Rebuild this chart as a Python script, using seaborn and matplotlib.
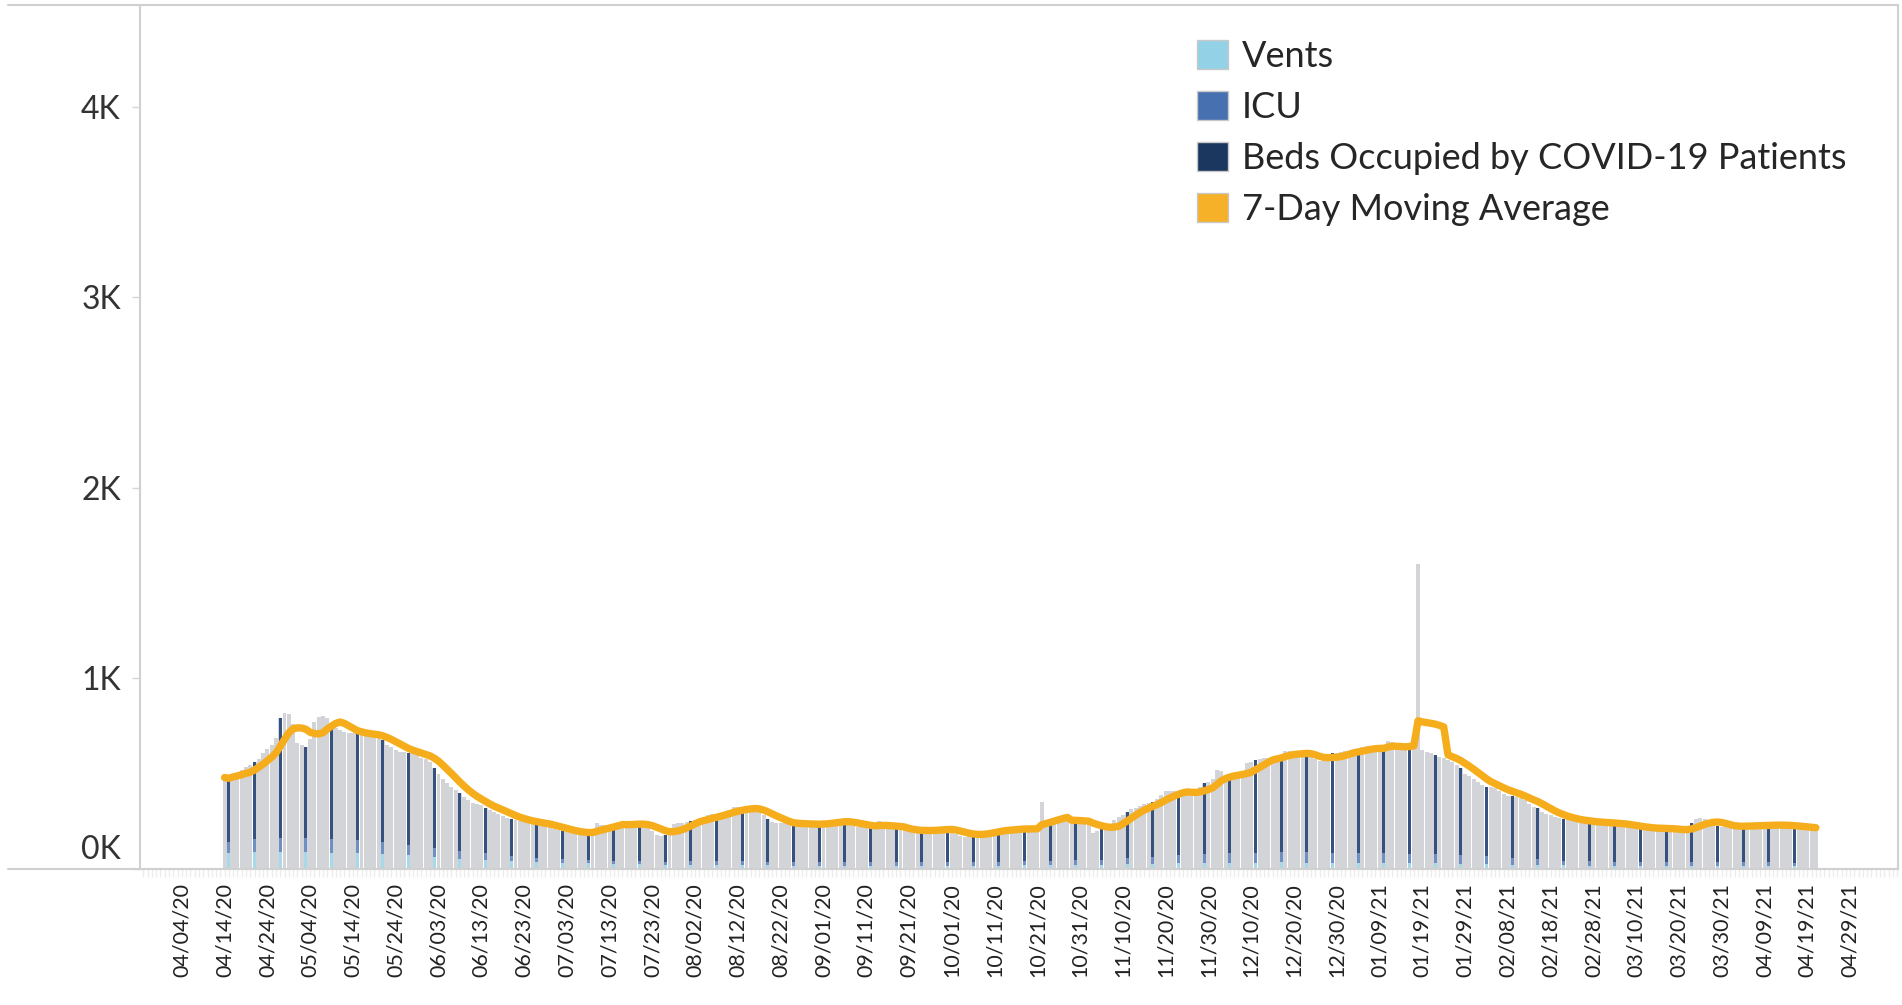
import numpy as np
import pandas as pd
import seaborn as sns
import matplotlib.pyplot as plt
from matplotlib.patches import Patch
from matplotlib.lines import Line2D
from matplotlib.transforms import ScaledTranslation

start_date = '2020-04-14'

# daily beds occupied
beds = [480, 472, 498, 505, 520, 538, 545,
        560, 575, 610, 630, 652, 690, 790,
        818, 812, 760, 662, 650, 642, 680,
        770, 800, 805, 795, 760, 742, 728,
        720, 712, 715, 710, 712, 705, 700,
        700, 690, 675, 652, 640, 622, 615,
        615, 610, 612, 600, 585, 575, 560,
        530, 500, 470, 450, 430, 415, 400,
        380, 360, 345, 340, 335, 320, 310,
        300, 290, 280, 270, 262, 255, 250,
        248, 245, 240, 238, 232, 228, 222,
        210, 205, 198, 194, 192, 190, 190,
        188, 190, 195, 240, 232, 230, 228,
        231, 234, 236, 238, 235, 240, 235,
        230, 215, 200, 180, 174, 176, 195,
        235, 241, 243, 245, 250, 255, 265,
        275, 284, 288, 282, 290, 300, 310,
        328, 325, 320, 315, 310, 312, 300,
        285, 260, 245, 240, 242, 240, 238,
        236, 240, 234, 232, 235, 230, 238,
        245, 248, 252, 250, 255, 248, 240,
        225, 222, 224, 220, 226, 228, 252,
        230, 220, 212, 210, 211, 208, 200,
        197, 198, 196, 205, 210, 212, 211,
        209, 206, 200, 185, 172, 170, 175,
        180, 190, 197, 198, 196, 200, 205,
        210, 212, 211, 208, 213, 210, 209,
        212, 215, 354, 255, 258, 260, 256,
        258, 255, 252, 250, 249, 248, 245,
        190, 200, 209, 212, 230, 255, 272,
        285, 300, 316, 320, 330, 342, 345,
        350, 365, 390, 410, 408, 412, 410,
        405, 395, 381, 400, 430, 450, 459,
        470, 520, 515, 480, 485, 490, 485,
        500, 555, 560, 570, 575, 582, 580,
        585, 590, 600, 620, 618, 610, 600,
        598, 602, 590, 575, 565, 570, 590,
        608, 610, 612, 617, 615, 618, 620,
        640, 643, 645, 640, 625, 620, 672,
        668, 640, 634, 630, 636, 640, 1600,
        625, 615, 608, 600, 590, 582, 573,
        560, 547, 530, 500, 486, 470, 455,
        440, 433, 428, 424, 410, 395, 385,
        381, 378, 375, 360, 340, 325, 320,
        300, 290, 284, 275, 268, 263, 260,
        255, 250, 249, 248, 246, 244, 241,
        242, 240, 240, 238, 232, 230, 226,
        220, 214, 215, 213, 214, 212, 214,
        215, 213, 210, 200, 197, 199, 215,
        240, 260, 267, 262, 240, 232, 226,
        223, 224, 222, 223, 226, 228, 229,
        228, 230, 227, 228, 232, 234, 232,
        230, 226, 220, 218, 219, 218, 216,
        214, 214]

icu = [140, 142, 145, 148, 150, 152, 155,
       156, 158, 160, 160, 162, 163, 165,
       166, 166, 165, 164, 163, 163, 162,
       162, 160, 160, 158, 157, 156, 155,
       154, 152, 150, 150, 148, 146, 145,
       143, 141, 140, 138, 136, 134, 132,
       130, 128, 126, 124, 121, 118, 115,
       112, 110, 107, 104, 101, 98, 95,
       92, 90, 88, 86, 84, 82, 80,
       78, 76, 74, 72, 70, 68, 66,
       64, 62, 60, 58, 57, 56, 55,
       54, 52, 51, 50, 49, 48, 48,
       47, 46, 46, 45, 45, 44, 44,
       43, 43, 42, 42, 41, 41, 40,
       40, 40, 39, 39, 38, 38, 38,
       38, 38, 39, 39, 40, 40, 40,
       41, 41, 42, 42, 42, 43, 43,
       43, 42, 42, 41, 41, 40, 40,
       39, 39, 38, 38, 38, 37, 37,
       37, 37, 36, 36, 36, 37, 37,
       37, 38, 38, 38, 37, 37, 36,
       36, 36, 35, 35, 35, 36, 36,
       36, 35, 35, 35, 34, 34, 34,
       34, 34, 35, 35, 35, 36, 36,
       36, 36, 35, 35, 34, 34, 35,
       35, 36, 36, 37, 37, 38, 38,
       38, 39, 39, 40, 40, 40, 41,
       41, 42, 42, 43, 44, 44, 45,
       45, 46, 46, 47, 47, 47, 48,
       48, 48, 49, 50, 51, 52, 54,
       55, 57, 58, 60, 61, 62, 64,
       65, 66, 68, 69, 70, 71, 72,
       73, 74, 74, 75, 76, 77, 78,
       79, 80, 81, 82, 82, 83, 84,
       84, 85, 85, 86, 86, 86, 87,
       87, 87, 87, 88, 88, 88, 87,
       87, 87, 86, 86, 86, 85, 85,
       85, 85, 84, 84, 84, 84, 83,
       83, 83, 83, 82, 82, 82, 82,
       81, 81, 81, 80, 80, 80, 82,
       80, 79, 79, 78, 78, 77, 76,
       75, 74, 73, 72, 71, 70, 68,
       67, 66, 64, 63, 62, 60, 59,
       58, 56, 55, 54, 52, 51, 50,
       49, 48, 47, 46, 45, 44, 43,
       43, 42, 42, 41, 41, 40, 40,
       40, 39, 39, 39, 38, 38, 38,
       37, 37, 37, 36, 36, 36, 36,
       35, 35, 35, 35, 35, 36, 36,
       37, 38, 38, 37, 37, 36, 36,
       36, 36, 35, 35, 35, 35, 36,
       36, 36, 36, 35, 35, 35, 35,
       35, 34, 34, 34, 34, 33, 33,
       33, 33]

vents = [82, 83, 84, 85, 85, 86, 87,
         87, 88, 88, 89, 89, 90, 90,
         90, 90, 90, 89, 89, 89, 88,
         88, 88, 87, 87, 86, 86, 85,
         85, 84, 84, 83, 82, 82, 81,
         80, 79, 78, 77, 76, 75, 74,
         73, 72, 71, 70, 68, 67, 66,
         64, 62, 61, 59, 58, 56, 55,
         54, 52, 51, 50, 49, 48, 47,
         46, 45, 44, 43, 42, 41, 40,
         39, 38, 37, 36, 36, 35, 35,
         34, 34, 33, 33, 32, 32, 31,
         31, 30, 30, 29, 29, 28, 28,
         27, 27, 26, 26, 25, 25, 24,
         24, 23, 23, 22, 22, 22, 21,
         21, 21, 21, 20, 20, 20, 20,
         20, 21, 21, 20, 20, 21, 21,
         21, 21, 20, 20, 20, 19, 19,
         19, 19, 19, 18, 18, 18, 18,
         18, 18, 18, 18, 17, 17, 18,
         18, 18, 18, 18, 18, 17, 17,
         17, 17, 16, 16, 17, 17, 17,
         17, 16, 16, 16, 17, 16, 16,
         16, 16, 16, 17, 17, 17, 17,
         17, 17, 16, 16, 16, 16, 17,
         17, 17, 17, 18, 18, 18, 18,
         18, 18, 19, 19, 19, 19, 20,
         20, 20, 20, 21, 21, 21, 21,
         22, 22, 22, 22, 23, 23, 23,
         23, 23, 23, 24, 24, 24, 25,
         25, 25, 26, 26, 26, 27, 27,
         27, 28, 28, 28, 29, 29, 29,
         29, 30, 30, 30, 30, 31, 31,
         31, 31, 32, 32, 32, 32, 33,
         33, 33, 33, 33, 34, 34, 34,
         34, 34, 35, 35, 35, 34, 34,
         34, 34, 34, 33, 33, 33, 33,
         33, 33, 33, 33, 33, 32, 32,
         32, 32, 32, 32, 32, 31, 31,
         31, 31, 31, 31, 31, 30, 31,
         30, 30, 30, 30, 29, 29, 29,
         29, 28, 28, 28, 27, 27, 26,
         26, 26, 25, 25, 24, 24, 23,
         23, 23, 22, 22, 21, 21, 21,
         20, 20, 20, 19, 19, 19, 19,
         18, 18, 18, 18, 18, 17, 17,
         17, 17, 17, 17, 17, 17, 16,
         16, 16, 16, 15, 15, 16, 16,
         16, 16, 16, 16, 15, 15, 15,
         16, 16, 16, 16, 16, 15, 15,
         15, 15, 15, 15, 15, 16, 16,
         16, 16, 16, 16, 15, 15, 15,
         15, 15, 15, 15, 15, 15, 14,
         14, 14]

tick_labels = ['04/04/20', '04/14/20', '04/24/20', '05/04/20', '05/14/20', '05/24/20',
               '06/03/20', '06/13/20', '06/23/20', '07/03/20', '07/13/20', '07/23/20',
               '08/02/20', '08/12/20', '08/22/20', '09/01/20', '09/11/20', '09/21/20',
               '10/01/20', '10/11/20', '10/21/20', '10/31/20', '11/10/20', '11/20/20',
               '11/30/20', '12/10/20', '12/20/20', '12/30/20', '01/09/21', '01/19/21',
               '01/29/21', '02/08/21', '02/18/21', '02/28/21', '03/10/21', '03/20/21',
               '03/30/21', '04/09/21', '04/19/21', '04/29/21']

y_ticks = [0, 1000, 2000, 3000, 4000]
y_tick_labels = ['0K', '1K', '2K', '3K', '4K']

legend_labels = ['Vents', 'ICU', 'Beds Occupied by COVID-19 Patients', '7-Day Moving Average']
legend_colors = ['#93d2e6', '#4670b0', '#1b365f', '#f6b128']

sns.set_theme(style='white')
plt.rcParams['font.family'] = ['Lato', 'DejaVu Sans']

df = pd.DataFrame({'beds': beds, 'icu': icu, 'vents': vents})
df['day'] = np.arange(len(df))
df['ma'] = df['beds'].rolling(7, min_periods=1).mean()
# the dense bars only show their colours every few days, like the original rendering
stripes = df[df['day'] % 6 == 1]

W, H = 1902, 1005
fig = plt.figure(figsize=(W / 100, H / 100), dpi=100)
x0, x1, y0, y1 = 139.5, 1898, 5, 869
ax = fig.add_axes([x0 / W, 1 - y1 / H, (x1 - x0) / W, (y1 - y0) / H])

bar_kw = dict(native_scale=True, saturation=1, errorbar=None, linewidth=0, ax=ax)
sns.barplot(data=df, x='day', y='beds', width=0.92, color='#d3d4d7', **bar_kw)
sns.barplot(data=stripes, x='day', y='beds', width=0.12, color='#35517e', **bar_kw)
sns.barplot(data=stripes, x='day', y='icu', width=0.12, color='#6f8fc4', **bar_kw)
sns.barplot(data=stripes, x='day', y='vents', width=0.12, color='#a8d9eb', **bar_kw)
sns.lineplot(data=df, x='day', y='ma', color='#f5ad1c', lw=5.3, ax=ax)

tick_days = (pd.to_datetime(tick_labels, format='%m/%d/%y') - pd.Timestamp(start_date)).days
ax.set_xlim(-19.9, 391.2)
ax.set_ylim(0, 4535)
ax.set_xticks(tick_days)
ax.set_xticklabels(tick_labels, rotation=90, fontsize=15.5, color='#222222')
ax.set_xticks(np.arange(-19, 392), minor=True)
ax.set_yticks(y_ticks)
ax.set_yticklabels(y_tick_labels, fontsize=23, color='#333333')
ax.set_xlabel('')
ax.set_ylabel('')
ax.tick_params(axis='x', which='both', bottom=True, length=6, width=1, color='#ececec', pad=4)
ax.tick_params(axis='y', left=True, length=6, width=1, color='#d6d6d6', pad=7.5)

# 0K label sits just above the axis line
zero_lbl = ax.get_yticklabels()[0]
zero_lbl.set_transform(zero_lbl.get_transform() + ScaledTranslation(0, 0.22, fig.dpi_scale_trans))

for s in ax.spines.values():
    s.set_visible(True)
    s.set_color('#d0d0d0')
    s.set_linewidth(1.5)

for yy in (y0, y1):
    fig.add_artist(Line2D([8 / W, x0 / W], [1 - yy / H] * 2, color='#d0d0d0', lw=1.5,
                          transform=fig.transFigure))

handles = [Patch(facecolor=c, edgecolor='#c8c8c8', lw=1) for c in legend_colors]
fig.legend(handles, legend_labels, loc='upper left', bbox_to_anchor=(1197 / W, 1 - 40 / H),
           bbox_transform=fig.transFigure, frameon=False, fontsize=26,
           handlelength=0.85, handleheight=0.85, handletextpad=0.4,
           labelspacing=0.5, borderpad=0, borderaxespad=0)

fig.savefig('out.png', dpi=100)
